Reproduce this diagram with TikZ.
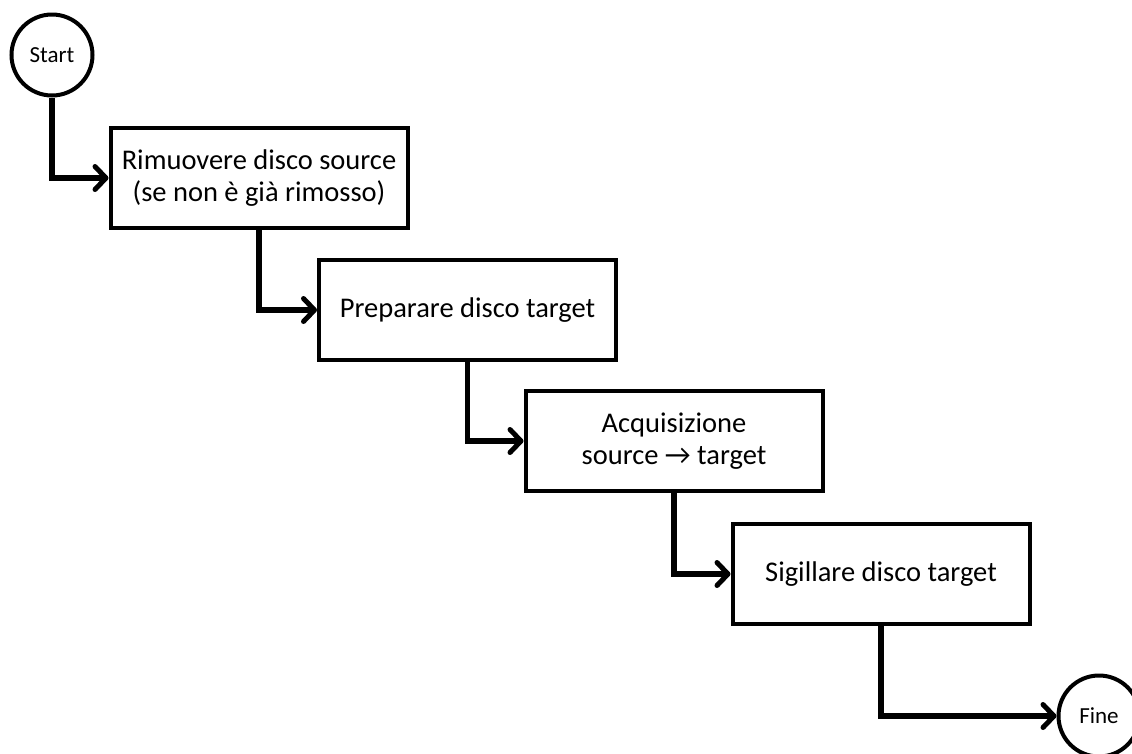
\documentclass[tikz,border=0pt]{standalone}
\usepackage{fontspec}
\setmainfont{Carlito}
\usetikzlibrary{arrows.meta,positioning}

\begin{document}
\begin{tikzpicture}[x=1pt,y=-1pt,
  every node/.style={font=\fontsize{28.5}{32}\selectfont},
  stepbox/.style={draw, line width=4pt, minimum width=297pt, minimum height=100pt, align=center},
  endpoint/.style={draw, circle, line width=4pt, minimum size=81pt, inner sep=0pt, font=\fontsize{23}{26}\selectfont},
  flow/.style={line width=5.5pt, -{Straight Barb[length=11pt,width=23pt,line width=5pt,round]}}]
  \clip (0,0) rectangle (1132,753);
  \node[endpoint] (start) at (52,55) {Start};
  \node[stepbox] (rimuovere) at (259,178) {Rimuovere disco source\\(se non è già rimosso)};
  \node[stepbox] (preparare) at (467.5,310) {Preparare disco target};
  \node[stepbox] (acquisire) at (674,441) {Acquisizione\\source → target};
  \node[stepbox] (sigillare) at (881,574) {Sigillare disco target};
  \node[endpoint] (fine) at (1099,716) {Fine};
  \foreach \a/\b in {start/rimuovere, rimuovere/preparare, preparare/acquisire, acquisire/sigillare, sigillare/fine}
    \draw[flow] (\a.south) |- (\b.west);
\end{tikzpicture}
\end{document}
